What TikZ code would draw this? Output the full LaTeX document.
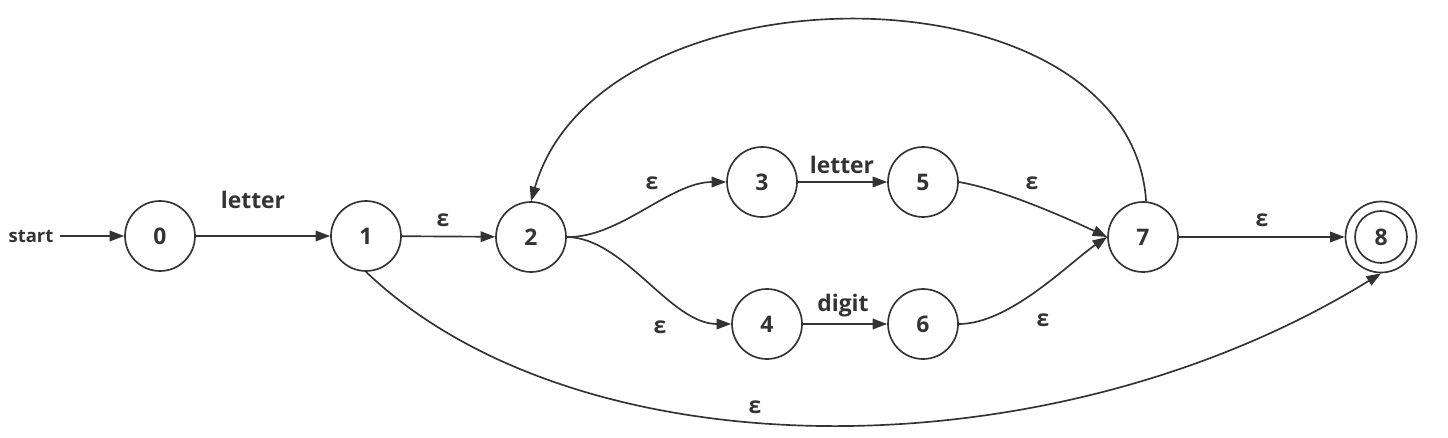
\documentclass[tikz,border=0pt]{standalone}
\usepackage{fontspec}
\setmainfont{Open Sans}
\usetikzlibrary{
  arrows.meta
}
\definecolor{ink}{HTML}{333333}
\tikzset{
  state/.style={
    circle,
    draw=ink,
    line width=0.95pt,
    minimum size=1.4cm,
    inner sep=0pt,
    text=ink,
    font=\fontsize{13}{15}\selectfont\bfseries
  },
  transition/.style={
    draw=ink,
    line width=0.95pt,
    -{Triangle[length=2.9mm,width=2.1mm]}
  },
  sym label/.style={
    text=ink,
    inner sep=0pt,
    font=\fontsize{13}{15}\selectfont\bfseries
  }
}

\begin{document}
\begin{tikzpicture}

    \useasboundingbox (0,0) rectangle (28.96,8.74);

    % ---------- states ----------
    \node[sym label, inner sep=3.5pt,
      font=\fontsize{10.5}{12}\selectfont\bfseries]
      (start) at (0.62,4.02) {start};
    \node[state] (s0) at (3.20,4.02) {0};
    \node[state] (s1) at (7.32,4.02) {1};
    \node[state] (s2) at (10.62,4.00) {2};
    \node[state] (s3) at (15.24,5.10) {3};
    \node[state] (s5) at (18.46,5.10) {5};
    \node[state] (s4) at (15.34,2.26) {4};
    \node[state] (s6) at (18.46,2.26) {6};
    \node[state] (s7) at (22.86,4.00) {7};
    \node[state, minimum size=1.42cm] (s8) at (27.62,4.00) {8};

    % accepting ring
    \draw[ink, line width=0.95pt] (s8) circle (0.52cm);

    % ---------- straight transitions ----------
    \draw[transition] (start) -- (s0);
    \draw[transition] (s0) -- (s1);
    \draw[transition] (s1) -- (s2);
    \draw[transition] (s3) -- (s5);
    \draw[transition] (s4) -- (s6);
    \draw[transition] (s7) -- (s8);

    % ---------- branches ----------
    \draw[transition]
      (s2.east)
      .. controls (12.40,3.98) and (13.40,5.10) ..
      (s3.west);
    \draw[transition]
      (s2.east)
      .. controls (12.50,3.98) and (13.40,2.26) ..
      (s4.west);
    \draw[transition]
      (s5.east)
      .. controls (20.00,4.96) and (21.20,4.44) ..
      (s7.west);
    \draw[transition]
      (s6.east)
      .. controls (20.20,2.26) and (21.40,3.50) ..
      (s7.west);

    % back loop 7 -> 2
    \draw[transition]
      (s7.85)
      .. controls (22.60,9.54) and (12.00,9.54) ..
      (s2.north);

    % skip 1 -> 8
    \draw[transition]
      (s1.south)
      .. controls (11.60,-0.78) and (21.04,-0.78) ..
      (s8.south);

    % ---------- labels ----------
    \node[sym label] (l01) at (5.06,4.74) {letter};
    \node[sym label] (l12) at (8.86,4.34) {ε};
    \node[sym label] (l23) at (13.04,5.08) {ε};
    \node[sym label] (l24) at (13.20,2.20) {ε};
    \node[sym label] (l35) at (16.84,5.44) {letter};
    \node[sym label] (l46) at (16.86,2.62) {digit};
    \node[sym label] (l57) at (20.64,5.08) {ε};
    \node[sym label] (l67) at (20.86,2.34) {ε};
    \node[sym label] (l78) at (25.24,4.34) {ε};
    \node[sym label] (l18) at (15.10,0.60) {ε};

\end{tikzpicture}
\end{document}
